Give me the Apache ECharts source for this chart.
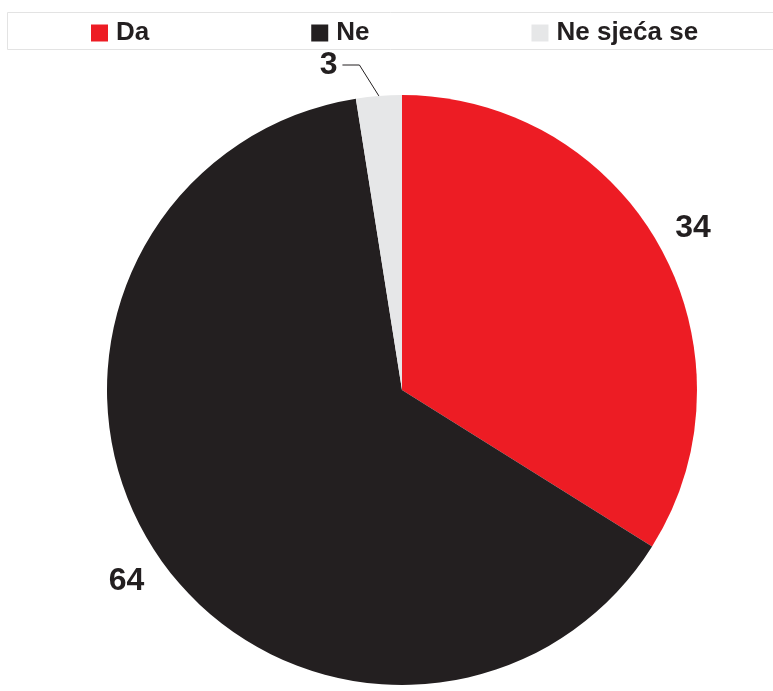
<!DOCTYPE html>
<html>
<head>
<meta charset="utf-8">
<script src="https://cdn.jsdelivr.net/npm/echarts@6/dist/echarts.min.js"></script>
<style>
html,body{margin:0;padding:0;background:#fff;}
#chart{width:773px;height:691px;}
</style>
</head>
<body>
<div id="chart"></div>
<script>
const categories = ['Da', 'Ne', 'Ne sjeća se'];
const values = [33.9, 63.6, 2.5];
const valueLabels = ['34', '64', '3'];

const palette = ['#ed1c24', '#231f20', '#e6e7e8'];
const FONT = '"Liberation Sans", Arial, Helvetica, sans-serif';
const textColor = '#231f20';

const rightLabel = {
  label: { distanceToLabelLine: -18 },
  labelLine: { show: false, length: 38, length2: 0 }
};
const leftLabel = {
  label: { distanceToLabelLine: -18 },
  labelLine: { show: false, length: 38, length2: 0 }
};
const leaderLabel = {
  label: { distanceToLabelLine: 5 },
  labelLine: { show: true, length: 31, length2: 34, lineStyle: { color: textColor, width: 1 } }
};
const labelStyles = [rightLabel, leftLabel, leaderLabel];

const chart = echarts.init(document.getElementById('chart'), null, { renderer: 'canvas' });
chart.setOption({
  animation: false,
  color: palette,
  graphic: [{
    type: 'rect',
    shape: { x: 7.5, y: 12.5, width: 790, height: 37 },
    style: { fill: 'none', stroke: '#e3e3e3', lineWidth: 1 },
    silent: true,
    z: -1
  }],
  legend: {
    data: categories,
    left: 91,
    top: 20,
    orient: 'horizontal',
    itemWidth: 17,
    itemHeight: 17,
    itemGap: 162,
    padding: 0,
    icon: 'rect',
    selectedMode: false,
    textStyle: { fontFamily: FONT, fontSize: 26, fontWeight: 'bold', color: textColor, padding: [0, 0, 0, 3] }
  },
  series: [{
    type: 'pie',
    center: [402, 390],
    radius: 295,
    startAngle: 90,
    clockwise: true,
    avoidLabelOverlap: false,
    silent: true,
    emphasis: { disabled: true },
    itemStyle: { borderWidth: 0 },
    label: {
      show: true,
      position: 'outside',
      fontFamily: FONT,
      fontSize: 32,
      fontWeight: 'bold',
      color: textColor,
      formatter: p => valueLabels[p.dataIndex]
    },
    labelLayout: function (params) {
      const pts = params.labelLinePoints;
      if (params.dataIndex === 1) {
        // nudge the lower-left label slightly down, as in the source
        return { dy: 7, dx: 2 };
      }
      if (!pts || pts.length < 3) return {};
      const p1 = pts[0], p2 = pts[1], p3 = pts[2];
      // bend the leader so its first segment slants toward the label
      return { labelLinePoints: [p1.slice(), [p2[0] + (p3[0] - p2[0]) * 0.5, p2[1]], p3.slice()] };
    },
    data: categories.map((name, i) => Object.assign({ name: name, value: values[i] }, labelStyles[i]))
  }]
});
</script>
</body>
</html>
